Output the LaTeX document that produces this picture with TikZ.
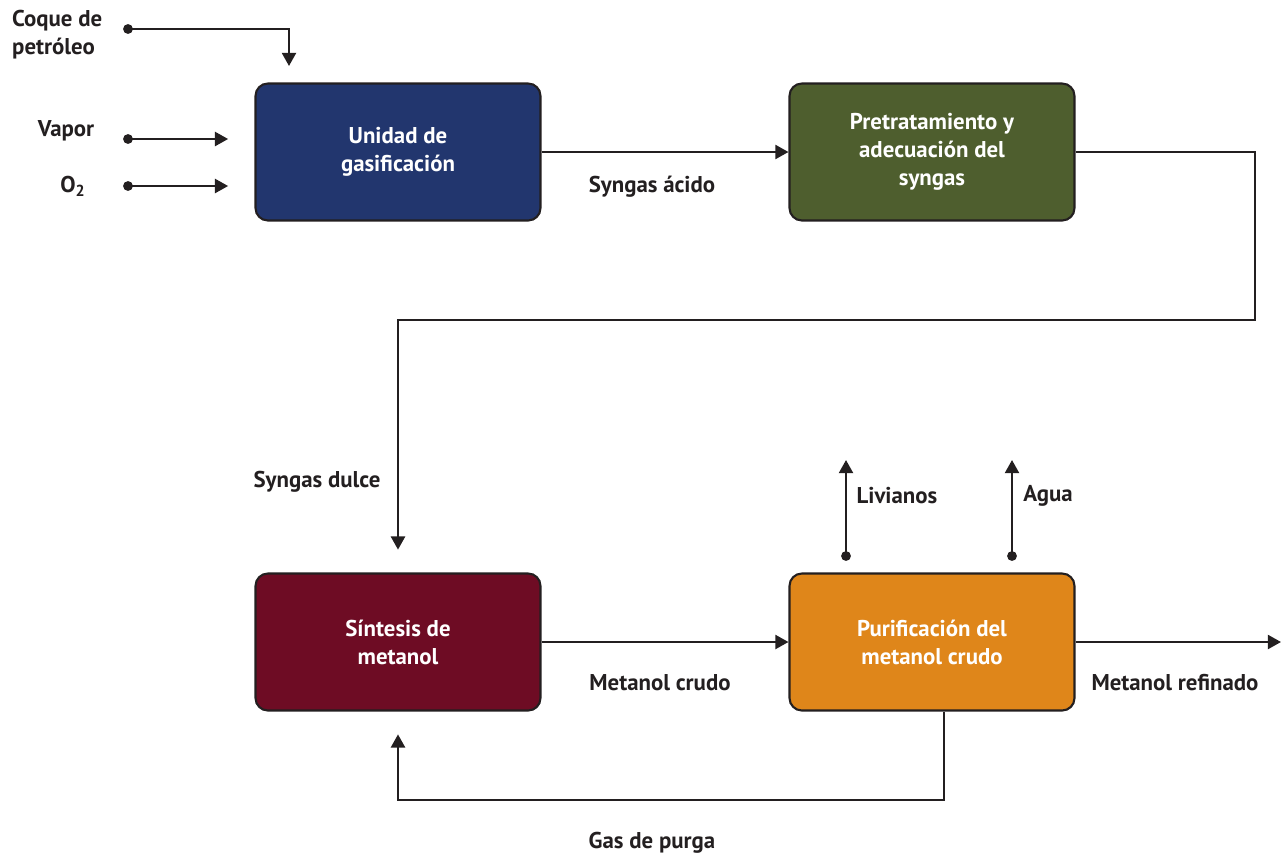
\documentclass[tikz,border=0pt]{standalone}
\usepackage{fontspec}
\setmainfont{PT Sans}
\usetikzlibrary{arrows.meta}

\definecolor{linea}{HTML}{231F20}
\definecolor{azul}{HTML}{22366E}
\definecolor{verde}{HTML}{4E5E2E}
\definecolor{vino}{HTML}{6E0C24}
\definecolor{naranja}{HTML}{DF861A}

\begin{document}
\begin{tikzpicture}[x=0.02cm,y=-0.02cm,
    caja/.style={draw=linea,line width=1.2pt,rounded corners=7pt,
        minimum width=5.7cm,minimum height=2.74cm,text=white,align=center,
        font=\bfseries\fontsize{13}{16}\selectfont},
    flujo/.style={draw=linea,line width=1.3pt,-{Triangle[length=7.5pt,width=8pt]}},
    rotulo/.style={text=linea,font=\bfseries\fontsize{13}{16}\selectfont}]

    % marco
    \useasboundingbox (0,0) rectangle (1281,856);

    % bloques
    \node[caja,fill=azul] (gas) at (398,152) {Unidad de\\gasificación};
    \node[caja,fill=verde] (pre) at (932,152) {Pretratamiento y\\adecuación del\\syngas};
    \node[caja,fill=vino] (sin) at (398,642) {Síntesis de\\metanol};
    \node[caja,fill=naranja] (pur) at (932,642) {Purificación del\\metanol crudo};

    % puntos de entrada y salida
    \coordinate (coque) at (128,29);
    \coordinate (coqueIn) at (289,66);
    \coordinate (vapor) at (128,139);
    \coordinate (oxi) at (128,186);
    \coordinate (liv) at (846,556);
    \coordinate (livOut) at (846,460);
    \coordinate (agua) at (1012,556);
    \coordinate (aguaOut) at (1012,460);
    \coordinate (refOut) at (1281,642);
    \coordinate (codo) at (1255,320);
    \coordinate (purga) at (944,800);

    % alimentaciones
    \draw[flujo] (coque) -| (coqueIn);
    \draw[flujo,shorten >=15pt] (vapor) -- (vapor -| gas.west);
    \draw[flujo,shorten >=15pt] (oxi) -- (oxi -| gas.west);
    \foreach \p in {coque,vapor,oxi,liv,agua}
        \fill[linea] (\p) circle (2.8pt);

    % corrientes principales
    \draw[flujo] (gas.east) -- (pre.west);
    \draw[flujo,shorten >=13pt] (pre.east) -| (codo) -| (sin.north);
    \draw[flujo] (sin.east) -- (pur.west);
    \draw[flujo] (pur.east) -- (refOut);
    \draw[flujo] (liv) -- (livOut);
    \draw[flujo] (agua) -- (aguaOut);
    \draw[flujo,shorten >=13pt] (pur.south -| purga) -- (purga) -| (sin.south);

    % rótulos
    \node[rotulo,align=left,anchor=west] (lcoque) at (6,35) {Coque de\\petróleo};
    \node[rotulo] (lvapor) at (66,131) {Vapor};
    \node[rotulo] (loxi) at (73,186) {O\textsubscript{2}};
    \node[rotulo] (lacido) at (652,187) {Syngas ácido};
    \node[rotulo] (ldulce) at (317,482) {Syngas dulce};
    \node[rotulo] (lcrudo) at (660,683) {Metanol crudo};
    \node[rotulo] (lrefin) at (1175,683) {Metanol refinado};
    \node[rotulo] (lliv) at (897,496) {Livianos};
    \node[rotulo] (lagua) at (1048,496) {Agua};
    \node[rotulo] (lpurga) at (652,843) {Gas de purga};

\end{tikzpicture}
\end{document}
